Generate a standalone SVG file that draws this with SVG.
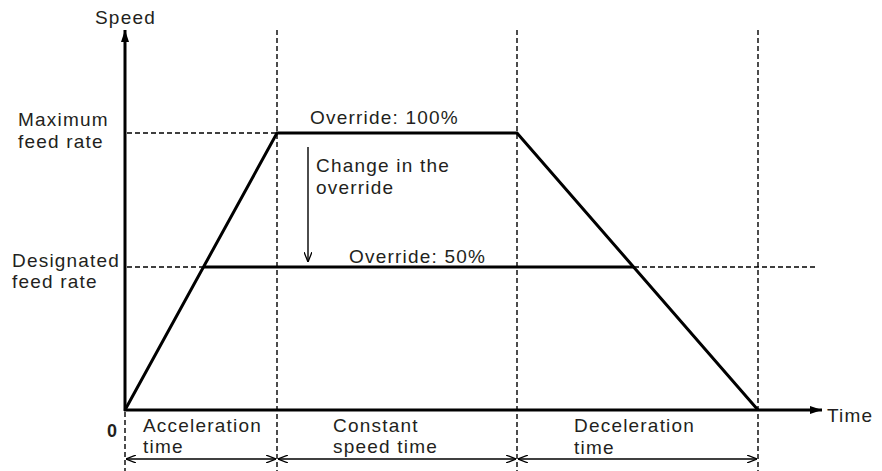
<svg xmlns="http://www.w3.org/2000/svg" width="882" height="471" viewBox="0 0 882 471">
<style>
text{font-family:"Liberation Sans",Arial,sans-serif;font-size:19px;letter-spacing:1.2px;fill:#231f20}
.dash{stroke:#000;stroke-width:1.4;stroke-dasharray:5,3;fill:none}
.thick{stroke:#000;stroke-width:3;fill:none;stroke-linejoin:miter}
.thin{stroke:#000;stroke-width:1.4;fill:none}
</style>
<defs>
<marker id="fill" viewBox="0 0 12 8" refX="12" refY="4" markerWidth="12" markerHeight="8" markerUnits="userSpaceOnUse" orient="auto">
<path d="M0,0 L12,4 L0,8 Z" fill="#000"/>
</marker>
<marker id="open" viewBox="0 0 10 8" refX="10" refY="4" markerWidth="10" markerHeight="8" markerUnits="userSpaceOnUse" orient="auto-start-reverse">
<path d="M0,0 L10,4 L0,8" fill="none" stroke="#000" stroke-width="1.3"/>
</marker>
</defs>
<g id="guides">
<line class="dash" x1="277" y1="30" x2="277" y2="471"/>
<line class="dash" x1="517" y1="30" x2="517" y2="471"/>
<line class="dash" x1="758" y1="30" x2="758" y2="471"/>
<line class="dash" x1="125" y1="412" x2="125" y2="471"/>
<line class="dash" x1="127" y1="133" x2="277" y2="133"/>
<line class="dash" x1="127" y1="267" x2="204" y2="267"/>
<line class="dash" x1="634" y1="267" x2="817" y2="267"/>
</g>
<g id="axes">
<line class="thick" x1="125" y1="411" x2="125" y2="30" marker-end="url(#fill)"/>
<line class="thick" x1="124" y1="410" x2="822" y2="410" marker-end="url(#fill)"/>
<text x="95" y="24">Speed</text>
<text x="827" y="422">Time</text>
<text x="107" y="437" style="font-weight:bold;font-size:18px;letter-spacing:0">0</text>
<text x="18" y="126">Maximum</text>
<text x="18" y="147.5">feed rate</text>
<text x="12" y="266.5">Designated</text>
<text x="12" y="288">feed rate</text>
</g>
<g id="profile">
<polyline class="thick" points="125,410 277,133 517,133 758,410"/>
<line class="thick" x1="204" y1="267" x2="634" y2="267"/>
<text x="310" y="124">Override: 100%</text>
<text x="349" y="263">Override: 50%</text>
</g>
<g id="connectors">
<line class="thin" x1="308" y1="147" x2="308" y2="262" marker-end="url(#open)"/>
<line class="thin" x1="126" y1="459" x2="276" y2="459" marker-start="url(#open)" marker-end="url(#open)"/>
<line class="thin" x1="278" y1="459" x2="516" y2="459" marker-start="url(#open)" marker-end="url(#open)"/>
<line class="thin" x1="518" y1="459" x2="757" y2="459" marker-start="url(#open)" marker-end="url(#open)"/>
</g>
<g id="labels">
<text x="316" y="172">Change in the</text>
<text x="316" y="193.5">override</text>
<text x="143" y="431.5">Acceleration</text>
<text x="143" y="453">time</text>
<text x="333" y="431.5">Constant</text>
<text x="333" y="453">speed time</text>
<text x="574" y="432">Deceleration</text>
<text x="574" y="453.5">time</text>
</g>
</svg>
